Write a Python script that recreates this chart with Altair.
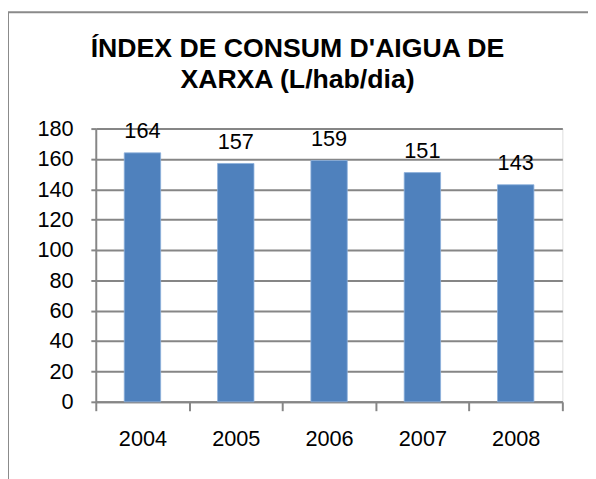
import altair as alt
import pandas as pd

years = ["2004", "2005", "2006", "2007", "2008"]
values = [164, 157, 159, 151, 143]
y_ticks = [0, 20, 40, 60, 80, 100, 120, 140, 160, 180]
title_lines = ["ÍNDEX DE CONSUM D'AIGUA DE", "XARXA (L/hab/dia)"]

df = pd.DataFrame({"year": years, "value": values})

W, H = 473, 277
PL, PT = 89, 119
FONT = "Liberation Sans"
GRID = "#868686"
FS = 22

x_enc = alt.X("year:N", sort=years, title=None,
              scale=alt.Scale(paddingInner=0, paddingOuter=0),
              axis=alt.Axis(labelAngle=0, labelFontSize=FS, labelFont=FONT, labelColor="#000000",
                            labelPadding=18, tickBand="extent", tickSize=9, tickWidth=2,
                            tickColor=GRID, domainColor=GRID, domainWidth=2, grid=False))
y_enc = alt.Y("value:Q", title=None,
              scale=alt.Scale(domain=[0, 180], nice=False),
              axis=alt.Axis(values=y_ticks, labelFontSize=FS, labelFont=FONT, labelColor="#000000",
                            labelPadding=18, tickSize=5, tickWidth=2, tickColor=GRID,
                            labelOverlap=False,
                            domainColor=GRID, domainWidth=2, grid=True, gridColor=GRID,
                            gridWidth=2))

base = alt.Chart(df)
one = base.transform_filter(alt.datum.year == "2004")

border = one.mark_rect(fill=None, stroke="#8a8a8a", strokeWidth=2).encode(
    x=alt.value(-PL + 0), y=alt.value(-PT + 1),
    x2=alt.value(W + 200), y2=alt.value(H + 200))

bars = base.mark_bar(color="#4F81BD", stroke="#8DB0DC", strokeWidth=0.8,
                     width=alt.RelativeBandSize(0.39)).encode(x=x_enc, y=y_enc)
labels = base.mark_text(fontSize=FS, font=FONT, color="#000000", dy=-15,
                        baseline="alphabetic").encode(x=x_enc, y=y_enc, text="value:Q")

title_style = dict(fontSize=27, font=FONT, fontWeight="bold", color="#000000",
                   align="center", baseline="alphabetic")
title1 = one.mark_text(**title_style).encode(
    x=alt.value(204.5), y=alt.value(-73), text=alt.value(title_lines[0]))
title2 = one.mark_text(**title_style).encode(
    x=alt.value(204.5), y=alt.value(-41), text=alt.value(title_lines[1]))

chart = alt.layer(bars, labels, border, title1, title2).properties(
    width=W, height=H,
    autosize=alt.AutoSizeParams(type="none"),
    padding={"left": PL, "top": PT, "right": 26, "bottom": 75},
).configure_view(stroke=None).configure(background="#ffffff")

chart.save("out.html", embed_options={"renderer": "svg", "actions": False})
